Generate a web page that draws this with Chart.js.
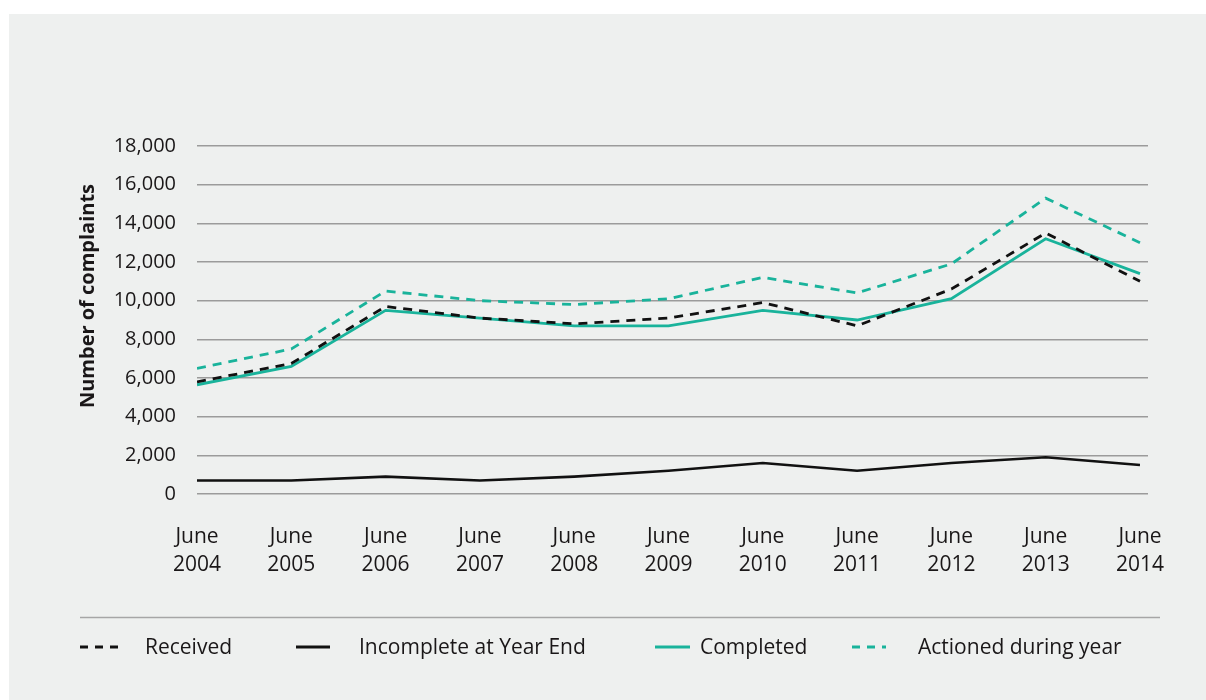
<!DOCTYPE html>
<html>
<head>
<meta charset="utf-8">
<script src="https://cdn.jsdelivr.net/npm/chart.js@4/dist/chart.umd.min.js"></script>
<style>
  html, body { margin: 0; padding: 0; background: #ffffff; }
  #panel { position: absolute; left: 9px; top: 14px; width: 1197px; height: 686px; background: #eef0ef; }
  #wrap { position: absolute; left: 0; top: 0; width: 1206px; height: 700px; }
</style>
</head>
<body>
<div id="panel"></div>
<div id="wrap"><canvas id="c" width="1206" height="700"></canvas></div>
<script>
const categories = ['2004','2005','2006','2007','2008','2009','2010','2011','2012','2013','2014'];
const received   = [5800, 6750, 9700, 9100, 8800, 9100, 9900, 8700, 10600, 13500, 11000];
const incomplete = [700, 700, 900, 700, 900, 1200, 1600, 1200, 1600, 1900, 1500];
const completed  = [5650, 6600, 9500, 9100, 8700, 8700, 9500, 9000, 10100, 13200, 11400];
const actioned   = [6500, 7500, 10500, 10000, 9800, 10100, 11200, 10400, 11900, 15300, 13000];
const yTicks = [0, 2000, 4000, 6000, 8000, 10000, 12000, 14000, 16000, 18000];
const seriesNames = ['Received', 'Incomplete at Year End', 'Completed', 'Actioned during year'];
const yTitle = 'Number of complaints';

const TEAL = '#19b39b';
const TEXT = '#1a1718';
const FONT = "'Open Sans', 'Noto Sans', sans-serif";

const toPts = arr => arr.map((v, i) => ({x: i, y: v}));

const extrasPlugin = {
  id: 'extras',
  afterDraw(chart) {
    const ctx = chart.ctx;
    ctx.save();
    // y-axis title
    ctx.save();
    ctx.translate(88, 296);
    ctx.rotate(-Math.PI / 2);
    ctx.fillStyle = TEXT;
    ctx.font = "bold 20px " + FONT;
    ctx.textAlign = 'center';
    ctx.textBaseline = 'middle';
    ctx.fillText(yTitle, 0, 0);
    ctx.restore();
    // separator
    ctx.strokeStyle = '#a6a6a6';
    ctx.lineWidth = 1.5;
    ctx.setLineDash([]);
    ctx.beginPath();
    ctx.moveTo(80, 617.5);
    ctx.lineTo(1160, 617.5);
    ctx.stroke();
    const sx = [80, 296, 655, 852];
    const sw = [42, 34, 35, 34];
    const tx = [145, 359, 700, 918];
    const y = 647;
    chart.data.datasets.forEach((ds, i) => {
      ctx.strokeStyle = ds.borderColor;
      ctx.lineWidth = 3;
      ctx.setLineDash(ds.borderDash && ds.borderDash.length ? [8, 7] : []);
      ctx.beginPath();
      ctx.moveTo(sx[i], y);
      ctx.lineTo(sx[i] + sw[i], y);
      ctx.stroke();
      ctx.setLineDash([]);
      ctx.fillStyle = TEXT;
      ctx.font = "21px " + FONT;
      ctx.textBaseline = 'middle';
      ctx.textAlign = 'left';
      ctx.fillText(ds.label, tx[i], y + 1.5);
    });
    ctx.restore();
  }
};

new Chart(document.getElementById('c'), {
  type: 'line',
  data: {
    datasets: [
      { label: seriesNames[0], data: toPts(received), borderColor: '#111111', borderWidth: 2.8, borderDash: [9, 7], pointRadius: 0, tension: 0 },
      { label: seriesNames[1], data: toPts(incomplete), borderColor: '#111111', borderWidth: 2.6, pointRadius: 0, tension: 0 },
      { label: seriesNames[2], data: toPts(completed), borderColor: TEAL, borderWidth: 2.8, pointRadius: 0, tension: 0 },
      { label: seriesNames[3], data: toPts(actioned), borderColor: TEAL, borderWidth: 2.8, borderDash: [9, 7], pointRadius: 0, tension: 0 }
    ]
  },
  options: {
    responsive: false,
    animation: false,
    events: [],
    layout: { padding: { left: 0, right: 58, top: 146, bottom: 0 } },
    plugins: { legend: { display: false }, tooltip: { enabled: false } },
    scales: {
      x: {
        type: 'linear',
        min: 0,
        max: 10.085,
        afterFit(scale) { scale.height = 206; },
        grid: { display: false, drawTicks: false },
        border: { display: false },
        ticks: {
          stepSize: 1,
          includeBounds: false,
          autoSkip: false,
          maxRotation: 0,
          padding: 29,
          color: TEXT,
          font: { family: FONT, size: 21, lineHeight: 1.32 },
          callback: v => (Number.isInteger(v) && categories[v] !== undefined) ? ['June', categories[v]] : ''
        }
      },
      y: {
        min: 0,
        max: 18000,
        afterFit(scale) { scale.width = 197; },
        afterBuildTicks(scale) { scale.ticks = yTicks.map(v => ({value: v})); },
        grid: { color: '#9b9b9b', lineWidth: 1.5, drawTicks: false },
        border: { display: false },
        ticks: {
          padding: 21,
          color: TEXT,
          font: { family: FONT, size: 20 },
          callback: v => v.toLocaleString('en-US')
        },
        title: { display: false }
      }
    }
  },
  plugins: [extrasPlugin]
});
</script>
</body>
</html>
